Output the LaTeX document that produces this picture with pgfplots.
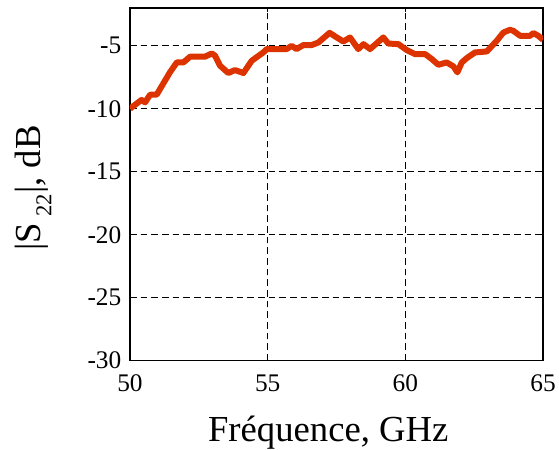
\documentclass[border=0pt]{standalone}
\usepackage{fontspec}
\setmainfont{Liberation Serif}
\usepackage{pgfplots}
\pgfplotsset{compat=1.18}
\usetikzlibrary{calc}

\definecolor{curve}{RGB}{221,51,0}

\begin{document}
\begin{tikzpicture}
\begin{axis}[
    name=ax,
    scale only axis,
    width=309.75pt, height=264.5pt,
    xmin=50, xmax=65,
    ymin=-30, ymax=-2,
    xtick={50,55,60,65},
    xticklabels={50,55,60,65},
    ytick={-30,-25,-20,-15,-10,-5},
    yticklabels={-30,-25,-20,-15,-10,-5},
    tick align=inside,
    major tick length=3pt,
    axis line style={line width=1.2pt},
    every tick/.style={black, line width=0.8pt},
    grid=major,
    major grid style={black, line width=0.6pt, dash pattern=on 5pt off 3pt},
    ticklabel style={font=\fontsize{19}{22}\selectfont},
    xticklabel style={yshift=-7pt},
    yticklabel style={xshift=-3pt},
    xlabel={Fréquence, GHz},
    ylabel={|S\,\raisebox{-8pt}{\fontsize{17}{19}\selectfont 22}|, dB},
    label style={font=\fontsize{27.5}{32}\selectfont},
    xlabel style={at={(axis description cs:0.48,-0.2297)}, anchor=base},
    ylabel style={at={(axis description cs:-0.216,0.49)}, anchor=base},
]
% |S22| measured
\addplot[color=curve, line width=4.5pt, line join=round] coordinates {
    (50.00, -10.00)
    (50.06, -9.89)
    (50.42, -9.30)
    (50.55, -9.49)
    (50.73, -8.88)
    (50.97, -8.88)
    (51.27, -7.77)
    (51.45, -7.11)
    (51.70, -6.32)
    (51.94, -6.32)
    (52.18, -5.87)
    (52.72, -5.87)
    (52.97, -5.61)
    (53.09, -5.79)
    (53.27, -6.58)
    (53.57, -7.16)
    (53.81, -6.93)
    (54.12, -7.16)
    (54.42, -6.19)
    (54.84, -5.53)
    (54.97, -5.26)
    (55.69, -5.26)
    (55.87, -5.00)
    (56.05, -5.26)
    (56.30, -4.94)
    (56.60, -4.94)
    (56.84, -4.74)
    (57.25, -3.97)
    (57.51, -4.34)
    (57.75, -4.66)
    (57.99, -4.34)
    (58.29, -5.26)
    (58.48, -4.87)
    (58.72, -5.26)
    (59.20, -4.34)
    (59.38, -4.82)
    (59.75, -4.87)
    (60.05, -5.34)
    (60.35, -5.66)
    (60.72, -5.66)
    (60.96, -6.05)
    (61.20, -6.51)
    (61.50, -6.32)
    (61.75, -6.64)
    (61.89, -7.11)
    (62.05, -6.32)
    (62.23, -5.98)
    (62.53, -5.53)
    (62.96, -5.45)
    (63.32, -4.60)
    (63.56, -3.95)
    (63.80, -3.73)
    (63.92, -3.81)
    (64.17, -4.21)
    (64.53, -4.21)
    (64.65, -3.99)
    (64.83, -4.21)
    (65.00, -4.52)
};
\end{axis}
\pgfresetboundingbox
\path ($(ax.south west)+(-97.5pt,-66.75pt)$) rectangle ($(ax.north east)+(12pt,6pt)$);
\end{tikzpicture}
\end{document}
